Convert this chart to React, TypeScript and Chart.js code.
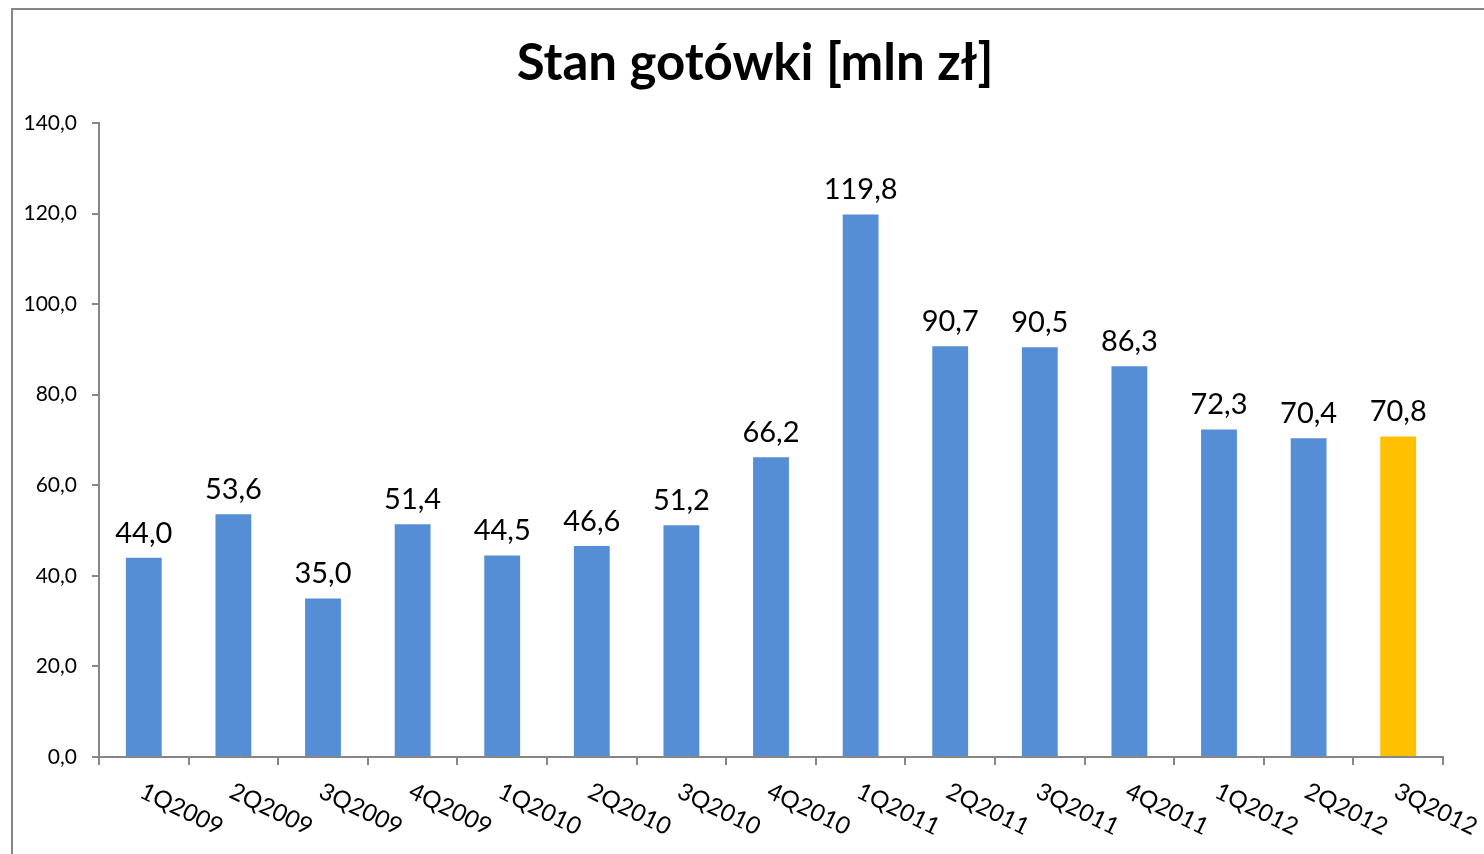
import React, { useEffect, useRef } from "react";
import { Chart, registerables } from "chart.js";

Chart.register(...registerables);

const categories = [
  "1Q2009", "2Q2009", "3Q2009", "4Q2009",
  "1Q2010", "2Q2010", "3Q2010", "4Q2010",
  "1Q2011", "2Q2011", "3Q2011", "4Q2011",
  "1Q2012", "2Q2012", "3Q2012",
];
const cashValues = [44.0, 53.6, 35.0, 51.4, 44.5, 46.6, 51.2, 66.2, 119.8, 90.7, 90.5, 86.3, 72.3, 70.4, 70.8];
const barColors = [
  "#558ED5", "#558ED5", "#558ED5", "#558ED5",
  "#558ED5", "#558ED5", "#558ED5", "#558ED5",
  "#558ED5", "#558ED5", "#558ED5", "#558ED5",
  "#558ED5", "#558ED5", "#FFC000",
];
const titleText = "Stan gotówki [mln zł]";
const yMin = 0;
const yMax = 140;
const yStep = 20;

const fmt = (v: number) => v.toFixed(1).replace(".", ",");

const W = 1484;
const H = 854;

const titlePlugin = {
  id: "customTitle",
  afterDraw(chart: any) {
    const ctx = chart.ctx;
    ctx.save();
    ctx.font = "bold 51px Lato";
    ctx.fillStyle = "#000";
    ctx.textAlign = "center";
    ctx.textBaseline = "middle";
    ctx.fillText(titleText, 755, 64);
    ctx.restore();
  },
};

const valueLabelsPlugin = {
  id: "valueLabels",
  afterDatasetsDraw(chart: any) {
    const ctx = chart.ctx;
    const meta = chart.getDatasetMeta(0);
    ctx.save();
    ctx.font = "29px Lato";
    ctx.fillStyle = "#000";
    ctx.textAlign = "center";
    ctx.textBaseline = "bottom";
    meta.data.forEach((bar: any, i: number) => {
      ctx.fillText(fmt(cashValues[i]), bar.x, bar.y - 10);
    });
    ctx.restore();
  },
};

const xLabelsPlugin = {
  id: "xLabels",
  afterDraw(chart: any) {
    const ctx = chart.ctx;
    const xs = chart.scales.x;
    const top = chart.chartArea.bottom;
    ctx.save();
    ctx.font = "24px Lato";
    ctx.fillStyle = "#000";
    ctx.textAlign = "left";
    ctx.textBaseline = "top";
    categories.forEach((c, i) => {
      const x = xs.getPixelForValue(i);
      ctx.save();
      ctx.translate(x + 3, top + 22);
      ctx.rotate((26 * Math.PI) / 180);
      ctx.fillText(c, 0, 0);
      ctx.restore();
    });
    ctx.restore();
  },
};

export default function App() {
  const ref = useRef<HTMLCanvasElement | null>(null);

  useEffect(() => {
    if (!ref.current) return;
    const chart = new Chart(ref.current, {
      type: "bar",
      data: {
        labels: categories,
        datasets: [
          {
            data: cashValues,
            backgroundColor: barColors,
            borderWidth: 0,
            barPercentage: 0.4,
            categoryPercentage: 1,
          },
        ],
      },
      options: {
        responsive: false,
        animation: false,
        layout: { padding: { left: 20, right: 41, top: 123, bottom: 0 } },
        plugins: {
          legend: { display: false },
          tooltip: { enabled: false },
          title: { display: false },
        },
        scales: {
          x: {
            grid: {
              display: true,
              offset: true,
              drawOnChartArea: false,
              drawTicks: true,
              tickLength: 8,
              color: "#868686",
              lineWidth: 2,
            },
            border: { display: true, color: "#868686", width: 2 },
            ticks: { display: false },
            afterFit: (s: any) => {
              s.height = 97;
            },
          },
          y: {
            min: yMin,
            max: yMax,
            grid: {
              display: true,
              drawOnChartArea: false,
              drawTicks: true,
              tickLength: 7,
              color: "#868686",
              lineWidth: 2,
            },
            border: { display: true, color: "#868686", width: 2 },
            ticks: {
              stepSize: yStep,
              padding: 15,
              color: "#000",
              font: { family: "Lato", size: 21 },
              callback: (v: any) => fmt(Number(v)),
            },
            afterFit: (s: any) => {
              s.width = 79;
            },
          },
        },
      },
      plugins: [titlePlugin, valueLabelsPlugin, xLabelsPlugin],
    });
    return () => chart.destroy();
  }, []);

  return (
    <div style={{ position: "fixed", left: 0, top: 0, width: W, height: H, overflow: "hidden", background: "#fff" }}>
      <div
        style={{
          position: "absolute",
          left: 11,
          top: 8,
          width: W + 20,
          height: H + 20,
          borderTop: "2px solid #868686",
          borderLeft: "2px solid #868686",
        }}
      />
      <canvas ref={ref} width={W} height={H} style={{ position: "absolute", left: 0, top: 0, display: "block" }} />
    </div>
  );
}
